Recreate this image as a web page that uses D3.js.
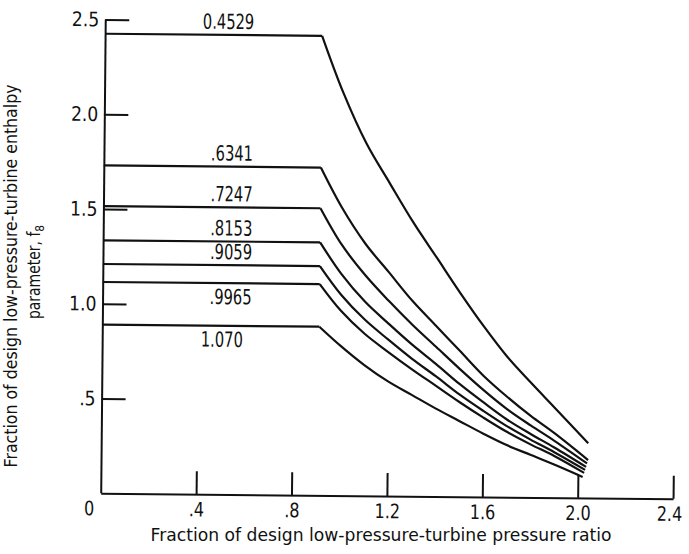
<!DOCTYPE html>
<html>
<head>
<meta charset="utf-8">
<script src="https://cdn.jsdelivr.net/npm/d3@7"></script>
<style>
  body { margin: 0; background: #fff; }
  svg text { font-family: 'DejaVu Sans', sans-serif; fill: #111; }
  .axis path, .axis line { stroke: #111; stroke-width: 2; }
  .curve { fill: none; stroke: #111; stroke-width: 2.2; }
</style>
</head>
<body>
<div id="chart"></div>
<script>
// tick values and labels
const xTicks = [0, 0.4, 0.8, 1.2, 1.6, 2.0, 2.4];
const xTickLabels = ['0', '.4', '.8', '1.2', '1.6', '2.0', '2.4'];
const yTicks = [0.5, 1.0, 1.5, 2.0, 2.5];
const yTickLabels = ['.5', '1.0', '1.5', '2.0', '2.5'];

// curve labels (flow parameter) and flat levels
const levels = ['0.4529', '.6341', '.7247', '.8153', '.9059', '.9965', '1.070'];
const flatValues = [2.425, 1.73, 1.515, 1.335, 1.21, 1.115, 0.89];
const breakX = 0.91;

// falling part of each curve, read at these x values
const fallX = [1.0, 1.1, 1.2, 1.3, 1.4, 1.5, 1.6, 1.7, 1.8, 1.9];
const fall4529 = [2.13, 1.86, 1.65, 1.445, 1.26, 1.075, 0.90, 0.74, 0.605, 0.475];
const fall6341 = [1.52, 1.33, 1.18, 1.03, 0.90, 0.77, 0.64, 0.53, 0.43, 0.34];
const fall7247 = [1.325, 1.165, 1.03, 0.905, 0.79, 0.675, 0.565, 0.465, 0.38, 0.30];
const fall8153 = [1.17, 1.025, 0.91, 0.80, 0.70, 0.595, 0.50, 0.41, 0.335, 0.265];
const fall9059 = [1.06, 0.93, 0.825, 0.725, 0.635, 0.54, 0.455, 0.375, 0.305, 0.24];
const fall9965 = [0.975, 0.855, 0.76, 0.67, 0.585, 0.50, 0.42, 0.345, 0.28, 0.22];
const fall1070 = [0.79, 0.69, 0.605, 0.535, 0.465, 0.40, 0.335, 0.275, 0.225, 0.175];
const fallValues = [fall4529, fall6341, fall7247, fall8153, fall9059, fall9965, fall1070];

// end of each curve
const endX = [2.042, 2.042, 2.038, 2.034, 2.03, 2.026, 2.02];
const endValues = [0.289, 0.20, 0.182, 0.164, 0.148, 0.132, 0.111];

// where the labels sit (right edge) and whether above/below their line
const labelX = [0.625, 0.625, 0.625, 0.625, 0.625, 0.625, 0.59];
const labelBelow = [false, false, false, false, false, true, true];

const W = 689, H = 554;
const ox = 100.7, oy = 493.3; // axis corner

/**
 * squeezes text horizontally, the scan uses a narrow typeface
 * @param {object} sel d3 selection of text nodes
 * @param {number} k width factor
 */
function squeeze(sel, k) {
  sel.each(function() {
    let len = this.getComputedTextLength();
    d3.select(this)
      .attr('textLength', len * k)
      .attr('lengthAdjust', 'spacingAndGlyphs');
  });
}

const svg = d3.select('#chart').append('svg')
  .attr('width', W)
  .attr('height', H);

// the scanned figure is a little tilted
const plot = svg.append('g')
  .attr('transform', 'rotate(0.55,' + ox + ',' + oy + ')');

const x = d3.scaleLinear().domain([0, 2.4]).range([ox, ox + 572.4]);
const y = d3.scaleLinear().domain([0, 2.5]).range([oy, oy - 473.8]);

// x axis, ticks pointing up
const xAxis = plot.append('g')
  .attr('class', 'axis')
  .attr('transform', 'translate(0,' + oy + ')')
  .call(d3.axisBottom(x)
    .tickValues(xTicks)
    .tickSizeInner(-23)
    .tickSizeOuter(0)
    .tickPadding(8)
    .tickFormat((d, i) => xTickLabels[i]));
xAxis.selectAll('text').style('font-size', '20px');
xAxis.selectAll('.tick').filter(d => d === 0).select('line').remove();
xAxis.selectAll('.tick').filter(d => d === 0).select('text').attr('x', -12);
// last label sits right at the page edge
xAxis.selectAll('.tick').filter(d => d === 2.4).select('text').attr('x', -4);
squeeze(xAxis.selectAll('text'), 0.8);

// y axis, ticks pointing right, labels on the left
const yAxis = plot.append('g')
  .attr('class', 'axis')
  .attr('transform', 'translate(' + ox + ',0)')
  .call(d3.axisLeft(y)
    .tickValues(yTicks)
    .tickSizeInner(-24)
    .tickSizeOuter(0)
    .tickPadding(6)
    .tickFormat((d, i) => yTickLabels[i]));
yAxis.selectAll('text').style('font-size', '20px');
yAxis.select('.domain').attr('d', 'M0.5,' + y(0) + 'V' + y(2.5));
squeeze(yAxis.selectAll('text'), 0.86);

const flatLine = d3.line()
  .x(d => x(d[0]))
  .y(d => y(d[1]));

const fallLine = d3.line()
  .x(d => x(d[0]))
  .y(d => y(d[1]))
  .curve(d3.curveCatmullRom.alpha(0.5));

levels.forEach(function(lbl, i) {
  let flat = [[0, flatValues[i]], [breakX, flatValues[i]]];
  let fall = [[breakX, flatValues[i]]]
    .concat(fallX.map((fx, j) => [fx, fallValues[i][j]]))
    .concat([[endX[i], endValues[i]]]);

  plot.append('path')
    .attr('class', 'curve')
    .attr('d', flatLine(flat));

  plot.append('path')
    .attr('class', 'curve')
    .attr('d', fallLine(fall));

  let t = plot.append('text')
    .attr('x', x(labelX[i]))
    .attr('y', y(flatValues[i]) + (labelBelow[i] ? 21 : -6))
    .attr('text-anchor', 'end')
    .style('font-size', '21px')
    .text(lbl);
  squeeze(t, 0.7);
});

// axis titles
svg.append('text')
  .attr('x', 381)
  .attr('y', 541)
  .attr('text-anchor', 'middle')
  .attr('textLength', 461)
  .attr('lengthAdjust', 'spacingAndGlyphs')
  .style('font-size', '17px')
  .text('Fraction of design low-pressure-turbine pressure ratio');

svg.append('text')
  .attr('transform', 'translate(17,276) rotate(-90)')
  .attr('text-anchor', 'middle')
  .attr('textLength', 383)
  .attr('lengthAdjust', 'spacingAndGlyphs')
  .style('font-size', '17px')
  .text('Fraction of design low-pressure-turbine enthalpy');

let yt2 = svg.append('text')
  .attr('transform', 'translate(40,272) rotate(-90)')
  .attr('text-anchor', 'middle')
  .style('font-size', '17px');
yt2.append('tspan').text('parameter, f');
yt2.append('tspan').attr('dy', 4).style('font-size', '13px').text('8');
squeeze(yt2, 0.82);
</script>
</body>
</html>
